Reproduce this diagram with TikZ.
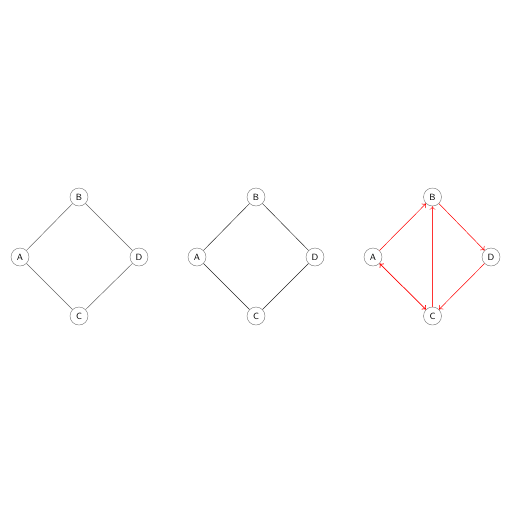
\documentclass[tikz,border=0pt]{standalone}
\usetikzlibrary{arrows.meta}
\begin{document}
\begin{tikzpicture}[x=1pt,y=-1pt,
  vtx/.style={circle,draw=black!55,line width=0.4pt,minimum size=18pt,inner sep=0pt,font=\sffamily\small},
  edgeA/.style={draw=black!60,line width=0.5pt},
  edgeB/.style={draw=black!85,line width=0.45pt},
  edgeC/.style={draw=red,line width=0.5pt,-{To[length=3.5pt,width=6pt]}},
  edgeV/.style={draw=red!80,line width=0.4pt,-{To[length=3.5pt,width=6pt]}},
  edgeCC/.style={draw=red,line width=0.7pt,{To[length=3.5pt,width=6pt]}-{To[length=3.5pt,width=6pt]}}]
\useasboundingbox (0,0) rectangle (512,512);
% diagram 1
\node[vtx] (a1) at (20,257) {A};
\node[vtx] (b1) at (79,197) {B};
\node[vtx] (d1) at (139,257) {D};
\node[vtx] (c1) at (79,316) {C};
\draw[edgeA] (a1) -- (b1);
\draw[edgeA] (b1) -- (d1);
\draw[edgeA] (d1) -- (c1);
\draw[edgeA] (c1) -- (a1);
% diagram 2
\node[vtx] (a2) at (197,257) {A};
\node[vtx] (b2) at (256,197) {B};
\node[vtx] (d2) at (315,257) {D};
\node[vtx] (c2) at (256,316) {C};
\draw[edgeB] (a2) -- (b2);
\draw[edgeB] (b2) -- (d2);
\draw[edgeB] (d2) -- (c2);
\draw[edgeB] (c2) -- (a2);
% diagram 3
\node[vtx] (a3) at (373,257) {A};
\node[vtx] (b3) at (432.5,197) {B};
\node[vtx] (d3) at (491,257) {D};
\node[vtx] (c3) at (432.5,316) {C};
\draw[edgeC] (a3) -- (b3);
\draw[edgeC] (b3) -- (d3);
\draw[edgeC] (d3) -- (c3);
\draw[edgeV] (c3) -- (b3);
\draw[edgeCC] (a3) -- (c3);
\end{tikzpicture}
\end{document}
